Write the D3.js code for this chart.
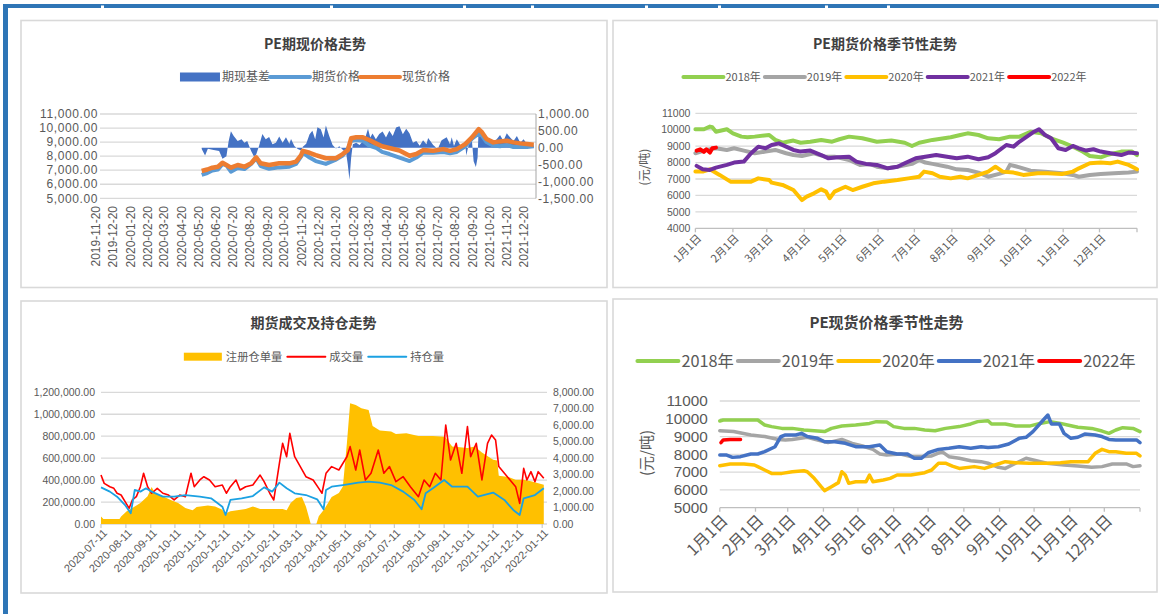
<!DOCTYPE html>
<html><head><meta charset="utf-8">
<script src="https://cdn.jsdelivr.net/npm/d3@7"></script>
<style>body{margin:0;background:#fff;overflow:hidden}text{font-family:"Noto Sans CJK SC","Noto Sans",sans-serif;}text.num{font-family:"Liberation Sans",Arial,sans-serif;}</style>
</head><body><svg id="c" width="1159" height="614"></svg>
<script>
// ---------------- DATA ----------------
// Panel 1: PE期现价格走势
const p1Title = "PE期现价格走势";
const p1Legend = ["期现基差", "期货价格", "现货价格"];
const p1TickLabels = ["2019-11-20","2019-12-20","2020-01-20","2020-02-20","2020-03-20","2020-04-20","2020-05-20","2020-06-20","2020-07-20","2020-08-20","2020-09-20","2020-10-20","2020-11-20","2020-12-20","2021-01-20","2021-02-20","2021-03-20","2021-04-20","2021-05-20","2021-06-20","2021-07-20","2021-08-20","2021-09-20","2021-10-20","2021-11-20","2021-12-20"];
const p1PriceDates = ["2020-05-26","2020-06-05","2020-06-14","2020-06-24","2020-07-02","2020-07-09","2020-07-17","2020-07-29","2020-08-10","2020-08-22","2020-08-31","2020-09-08","2020-09-23","2020-10-11","2020-10-29","2020-11-10","2020-11-19","2020-11-22","2020-12-04","2020-12-15","2021-01-02","2021-01-20","2021-02-01","2021-02-10","2021-02-16","2021-02-25","2021-03-09","2021-03-20","2021-04-01","2021-04-12","2021-04-25","2021-05-13","2021-05-31","2021-06-12","2021-06-24","2021-07-12","2021-07-30","2021-08-11","2021-08-23","2021-09-07","2021-09-19","2021-10-01","2021-10-07","2021-10-15","2021-10-27","2021-11-08","2021-11-20","2021-12-02","2021-12-14","2021-12-26","2022-01-07"];
const p1Spot = [6940,7050,7180,7250,7530,7370,7180,7370,7250,7490,7920,7490,7370,7490,7490,7610,8080,8380,8240,8080,7850,7850,8150,8430,9270,9340,9340,9150,8910,8700,8580,8400,8030,8150,8430,8380,8500,8380,8500,8860,9330,9930,9690,9220,8980,9050,9100,8980,8910,8860,8810];
const p1Futures = [6660,6800,6980,7050,7450,7350,6900,7150,7080,7450,7850,7300,7100,7200,7250,7450,7980,8250,7900,7650,7450,7750,8050,8500,9100,9150,9100,8750,8600,8300,8150,7900,7650,7900,8250,8250,8300,8200,8300,8700,9250,9600,9450,9000,8750,8700,8800,8650,8650,8650,8700];
const p1BasisDates = ["2020-05-26","2020-06-01","2020-06-06","2020-06-14","2020-06-26","2020-07-02","2020-07-09","2020-07-13","2020-07-17","2020-07-22","2020-07-29","2020-08-05","2020-08-10","2020-08-15","2020-08-22","2020-08-27","2020-08-31","2020-09-05","2020-09-11","2020-09-17","2020-09-23","2020-09-29","2020-10-05","2020-10-11","2020-10-17","2020-10-23","2020-10-29","2020-11-01","2020-11-07","2020-11-13","2020-11-19","2020-11-22","2020-11-28","2020-12-04","2020-12-09","2020-12-14","2020-12-18","2020-12-24","2020-12-29","2021-01-02","2021-01-08","2021-01-14","2021-01-20","2021-01-26","2021-02-01","2021-02-07","2021-02-10","2021-02-13","2021-02-16","2021-02-19","2021-02-25","2021-03-03","2021-03-09","2021-03-14","2021-03-18","2021-03-22","2021-03-26","2021-04-01","2021-04-07","2021-04-13","2021-04-19","2021-04-25","2021-05-01","2021-05-07","2021-05-13","2021-05-19","2021-05-25","2021-05-31","2021-06-06","2021-06-12","2021-06-18","2021-06-24","2021-06-30","2021-07-03","2021-07-12","2021-07-20","2021-07-27","2021-08-05","2021-08-11","2021-08-14","2021-08-18","2021-08-23","2021-08-30","2021-09-07","2021-09-09","2021-09-13","2021-09-19","2021-09-22","2021-09-26","2021-09-29","2021-10-01","2021-10-05","2021-10-10","2021-10-15","2021-10-21","2021-10-27","2021-11-02","2021-11-08","2021-11-14","2021-11-20","2021-11-26","2021-12-02","2021-12-08","2021-12-14","2021-12-20","2021-12-26","2022-01-01","2022-01-07"];
const p1Basis = [-40,-230,-30,-60,-100,-330,-250,200,490,350,200,250,150,200,-100,-260,-200,50,410,250,320,100,150,330,150,310,120,260,50,-40,-80,30,120,400,500,250,610,550,300,660,350,80,-20,40,-60,-150,-500,-950,-300,100,150,80,200,350,560,300,420,250,410,480,300,500,350,600,640,400,560,420,150,200,60,220,100,290,80,-40,220,310,100,310,50,250,60,100,-230,80,200,-400,-570,-300,600,500,400,150,200,160,250,380,200,430,300,200,350,150,250,100,150,50];

// Panel 2: PE期货价格季节性走势 (day of year, price)
const p2Title = "PE期货价格季节性走势";
const seasonYears = ["2018年","2019年","2020年","2021年","2022年"];
const monthLabels = ["1月1日","2月1日","3月1日","4月1日","5月1日","6月1日","7月1日","8月1日","9月1日","10月1日","11月1日","12月1日"];
const monthStartDoy = [0,31,59,90,120,151,181,212,243,273,304,334];
const fut2018 = [[0,10030],[7,10030],[12,10190],[14,10150],[17,9880],[26,10030],[31,9780],[38,9580],[43,9540],[49,9580],[61,9680],[66,9380],[72,9210],[81,9340],[87,9210],[95,9270],[104,9380],[113,9270],[119,9420],[127,9580],[138,9480],[150,9270],[162,9340],[173,9210],[179,9010],[185,9210],[196,9380],[211,9540],[219,9680],[225,9780],[234,9680],[242,9480],[251,9420],[260,9580],[268,9580],[277,9880],[286,9780],[294,9480],[304,9210],[312,8970],[320,8670],[326,8400],[335,8320],[340,8460],[352,8670],[361,8670],[365,8460]];
const fut2019 = [[0,8570],[9,8770],[17,8870],[26,8770],[32,8870],[40,8730],[49,8570],[58,8670],[66,8770],[75,8570],[81,8460],[88,8400],[98,8570],[107,8360],[115,8360],[127,8160],[136,7860],[144,7920],[150,7750],[159,7650],[167,7750],[179,7920],[185,8160],[190,8000],[196,7920],[208,7750],[216,7590],[225,7550],[234,7390],[242,7140],[251,7310],[257,7450],[260,7860],[268,7710],[277,7510],[289,7450],[303,7350],[312,7250],[317,7140],[326,7250],[335,7310],[346,7350],[358,7390],[365,7450]];
const fut2020 = [[0,7450],[6,7450],[12,7590],[20,7250],[29,6840],[38,6840],[46,6840],[52,7040],[61,6940],[63,6780],[72,6640],[81,6330],[88,5720],[92,5930],[98,6130],[104,6370],[108,6230],[111,5830],[115,6230],[124,6530],[130,6330],[138,6530],[147,6740],[156,6840],[167,6940],[176,7040],[185,7140],[189,7450],[196,7350],[202,7140],[211,7040],[219,7140],[225,7040],[234,7250],[242,7450],[248,7750],[254,7450],[263,7390],[271,7250],[283,7350],[291,7350],[303,7310],[312,7450],[317,7650],[326,7960],[335,8000],[343,7960],[349,8060],[358,7860],[365,7590]];
const fut2021 = [[1,7800],[6,7590],[12,7550],[17,7690],[26,7860],[32,8000],[40,8060],[46,8570],[52,8970],[58,8870],[63,9070],[69,9170],[75,8970],[81,8770],[87,8670],[95,8730],[104,8460],[110,8260],[118,8320],[127,8360],[133,8060],[141,7920],[150,7860],[159,7650],[167,7750],[173,7960],[182,8260],[190,8360],[199,8460],[208,8360],[216,8260],[225,8360],[234,8200],[242,8320],[248,8570],[257,9070],[263,8970],[268,9280],[274,9580],[280,9880],[284,10030],[289,9680],[294,9480],[300,8870],[306,8770],[312,9010],[317,8870],[323,8730],[329,8810],[335,8670],[343,8570],[352,8460],[358,8610],[365,8570]];
const fut2022 = [[1,8730],[4,8810],[7,8650],[9,8810],[12,8610],[14,8870],[17,8910]];

// Panel 3: 期货成交及持仓走势
const p3Title = "期货成交及持仓走势";
const p3Legend = ["注册仓单量", "成交量", "持仓量"];
const p3TickLabels = ["2020-07-11","2020-08-11","2020-09-11","2020-10-11","2020-11-11","2020-12-11","2021-01-11","2021-02-11","2021-03-11","2021-04-11","2021-05-11","2021-06-11","2021-07-11","2021-08-11","2021-09-11","2021-10-11","2021-11-11","2021-12-11","2022-01-11"];
const p3ReceiptDates = ["2020-07-11","2020-07-14","2020-08-03","2020-08-05","2020-08-12","2020-08-19","2020-08-29","2020-09-07","2020-09-12","2020-09-16","2020-09-26","2020-10-05","2020-10-15","2020-10-24","2020-11-02","2020-11-07","2020-11-21","2020-11-30","2020-12-09","2020-12-12","2020-12-19","2021-01-07","2021-01-16","2021-01-25","2021-02-22","2021-02-27","2021-03-04","2021-03-11","2021-03-18","2021-03-23","2021-03-27","2021-03-29","2021-04-05","2021-04-08","2021-04-15","2021-04-24","2021-05-03","2021-05-08","2021-05-13","2021-05-17","2021-05-24","2021-05-31","2021-06-09","2021-06-14","2021-06-23","2021-07-07","2021-07-13","2021-07-26","2021-08-10","2021-08-28","2021-09-07","2021-09-12","2021-09-21","2021-10-10","2021-10-19","2021-10-28","2021-11-11","2021-11-16","2021-11-18","2021-11-30","2021-12-09","2021-12-19","2021-12-28","2022-01-13"];
const p3Receipt = [450,300,300,450,770,970,1270,1680,2240,1880,1680,1470,1270,970,830,1030,1130,1070,870,630,770,910,1070,910,910,830,1270,1580,1640,1070,360,0,0,465,910,1640,1880,2280,4900,7330,7230,7030,6930,5960,5680,5620,5470,5510,5350,5350,5310,5300,4710,4610,4710,4340,3900,3850,2930,2850,2690,2690,2590,2380];
const p3VolDates = ["2020-07-11","2020-07-15","2020-07-22","2020-07-27","2020-07-31","2020-08-05","2020-08-10","2020-08-15","2020-08-19","2020-08-24","2020-08-29","2020-09-02","2020-09-07","2020-09-12","2020-09-19","2020-09-26","2020-10-03","2020-10-10","2020-10-17","2020-10-24","2020-10-31","2020-11-04","2020-11-11","2020-11-16","2020-11-23","2020-11-30","2020-12-09","2020-12-14","2020-12-19","2020-12-26","2020-12-31","2021-01-07","2021-01-16","2021-01-25","2021-01-30","2021-02-06","2021-02-11","2021-02-18","2021-02-22","2021-02-27","2021-03-03","2021-03-09","2021-03-16","2021-03-23","2021-04-01","2021-04-08","2021-04-12","2021-04-17","2021-04-24","2021-05-03","2021-05-13","2021-05-17","2021-05-24","2021-05-29","2021-06-05","2021-06-12","2021-06-21","2021-06-28","2021-07-05","2021-07-13","2021-07-22","2021-07-31","2021-08-10","2021-08-17","2021-08-24","2021-08-31","2021-09-07","2021-09-13","2021-09-19","2021-09-26","2021-10-03","2021-10-10","2021-10-14","2021-10-21","2021-10-28","2021-11-04","2021-11-09","2021-11-14","2021-11-18","2021-11-25","2021-12-02","2021-12-09","2021-12-14","2021-12-19","2021-12-23","2021-12-28","2022-01-02","2022-01-06","2022-01-13"];
const p3Volume = [446000,370000,340000,325000,280000,264000,204000,143000,219000,249000,340000,462000,340000,280000,325000,280000,264000,219000,264000,249000,462000,340000,401000,431000,401000,340000,355000,280000,340000,401000,310000,340000,355000,446000,386000,280000,219000,553000,735000,613000,826000,613000,523000,431000,401000,325000,280000,462000,523000,492000,613000,705000,492000,674000,401000,462000,674000,462000,523000,386000,431000,340000,249000,401000,340000,462000,401000,902000,583000,735000,462000,887000,613000,735000,401000,735000,811000,766000,523000,462000,401000,340000,188000,507000,401000,477000,386000,477000,416000];
const p3OIDates = ["2020-07-11","2020-07-22","2020-07-31","2020-08-10","2020-08-17","2020-08-22","2020-08-29","2020-09-05","2020-09-12","2020-09-26","2020-10-10","2020-10-24","2020-11-11","2020-11-25","2020-12-09","2020-12-13","2020-12-19","2021-01-02","2021-01-16","2021-01-30","2021-02-09","2021-02-18","2021-02-27","2021-03-09","2021-03-23","2021-04-06","2021-04-14","2021-04-17","2021-04-24","2021-05-08","2021-05-27","2021-06-09","2021-06-23","2021-07-07","2021-07-22","2021-08-05","2021-08-14","2021-08-19","2021-08-28","2021-09-11","2021-09-21","2021-10-10","2021-10-23","2021-11-11","2021-11-25","2021-12-06","2021-12-14","2021-12-19","2022-01-02","2022-01-13"];
const p3OpenInterest = [334000,295000,249000,173000,97000,310000,295000,325000,295000,249000,249000,264000,249000,234000,158000,82000,219000,234000,255000,334000,295000,377000,325000,280000,264000,225000,134000,310000,340000,355000,377000,386000,377000,355000,295000,219000,134000,280000,325000,401000,340000,340000,249000,286000,219000,128000,82000,234000,264000,325000];

// Panel 4: PE现货价格季节性走势 (day of year, price)
const p4Title = "PE现货价格季节性走势";
const spot2018 = [[0,9875],[3,9930],[33,9930],[39,9650],[45,9560],[54,9460],[63,9460],[73,9370],[82,9330],[91,9280],[97,9460],[106,9590],[118,9650],[130,9740],[136,9840],[145,9820],[151,9560],[160,9460],[169,9460],[178,9370],[187,9330],[196,9460],[208,9560],[218,9710],[224,9840],[233,9890],[236,9710],[248,9710],[257,9590],[269,9590],[278,9740],[287,9840],[296,9740],[302,9650],[311,9520],[323,9460],[332,9310],[338,9180],[344,9370],[350,9500],[359,9460],[365,9280]];
const spot2019 = [[0,9330],[12,9280],[27,9090],[39,9000],[51,8840],[57,8810],[63,8840],[76,8960],[85,8810],[94,8660],[106,8840],[115,8620],[124,8470],[133,8280],[139,8020],[145,7960],[157,8020],[166,7870],[175,7870],[184,7910],[193,8150],[199,7870],[208,7780],[218,7640],[227,7590],[233,7500],[242,7270],[248,7210],[257,7500],[266,7780],[275,7640],[284,7500],[299,7400],[311,7340],[323,7270],[332,7310],[341,7460],[353,7460],[359,7310],[365,7360]];
const spot2020 = [[0,7360],[9,7460],[21,7460],[30,7400],[33,7310],[39,7120],[45,6930],[54,6930],[63,7020],[73,7080],[76,7020],[82,6650],[88,6180],[91,5960],[97,6180],[103,6410],[106,7020],[109,6840],[112,6370],[118,6460],[127,6460],[130,6840],[133,6460],[142,6560],[148,6650],[154,6840],[166,6840],[178,6970],[184,7120],[190,7500],[196,7500],[202,7340],[208,7210],[221,7310],[230,7210],[239,7400],[248,7590],[257,7530],[269,7500],[284,7500],[296,7530],[305,7590],[320,7590],[326,8060],[332,8280],[338,8150],[344,8150],[353,8060],[362,8060],[365,7910]];
const spot2021 = [[0,7960],[6,7960],[11,7830],[18,7870],[27,8020],[33,8020],[39,8150],[48,8430],[53,8990],[57,9090],[66,9090],[71,9180],[76,9000],[85,8900],[91,8710],[100,8710],[109,8620],[118,8430],[130,8430],[139,8530],[145,8150],[154,8020],[163,8020],[169,7780],[175,7780],[181,8090],[190,8280],[199,8340],[208,8430],[218,8340],[227,8430],[233,8390],[242,8430],[251,8580],[260,8900],[266,8960],[272,9280],[281,9930],[285,10210],[288,9710],[295,9710],[299,9180],[305,8900],[311,8960],[317,9140],[326,9090],[332,9000],[338,8840],[344,8810],[356,8810],[362,8810],[365,8660]];
const spot2022 = [[1,8660],[3,8810],[9,8840],[18,8840]];

// ---------------- DRAWING ----------------
const svg = d3.select("#c");
const parse = d3.timeParse("%Y-%m-%d");
const LABEL = "#595959", GRID = "#D9D9D9", TITLE = "#404040";
const fmt = d3.formatLocale({decimal: ".", thousands: ",", grouping: [3], currency: ["", ""], minus: "-"}).format(",.2f");

// outer frame
const frame = svg.append("g");
frame.append("rect").attr("x", 3).attr("y", 4).attr("width", 1156).attr("height", 4).attr("fill", "#2E75B6");
frame.append("rect").attr("x", 3).attr("y", 4).attr("width", 5).attr("height", 610).attr("fill", "#2E75B6");
[101, 330, 463, 531, 645, 718, 825, 887].forEach(x => frame.append("rect").attr("x", x).attr("y", 5.5).attr("width", 3).attr("height", 2.5).attr("fill", "#fff"));

// panel boxes
[[21, 20.5, 586, 267], [613, 20.5, 544, 267], [21, 301, 586, 292], [613, 299, 544, 293]].forEach(b => {
  svg.append("rect").attr("x", b[0]).attr("y", b[1]).attr("width", b[2]).attr("height", b[3])
    .attr("fill", "#fff").attr("stroke", "#D9D9D9").attr("stroke-width", 1.6);
});

function title(txt, cx, cy, size) {
  svg.append("text").attr("x", cx).attr("y", cy).attr("text-anchor", "middle").attr("dy", "0.35em")
    .attr("font-size", size).attr("font-weight", "bold").attr("fill", TITLE).text(txt);
}

// legend: items {label,color,type}
function legend(items, cx, cy, o) {
  const g = svg.append("g");
  const widths = items.map(it => {
    const t = g.append("text").attr("font-size", o.fs).text(it.label);
    const w = t.node().getComputedTextLength(); t.remove(); return w;
  });
  const total = d3.sum(widths) + items.length * (o.sw + o.g1) + (items.length - 1) * o.g2;
  let x = cx - total / 2;
  items.forEach((it, i) => {
    if (it.type === "rect") {
      g.append("rect").attr("x", x).attr("y", cy - o.rh / 2).attr("width", o.sw).attr("height", o.rh).attr("fill", it.color);
    } else {
      g.append("line").attr("x1", x).attr("x2", x + o.sw).attr("y1", cy).attr("y2", cy)
        .attr("stroke", it.color).attr("stroke-width", o.lw).attr("stroke-linecap", "round");
    }
    x += o.sw + o.g1;
    g.append("text").attr("x", x).attr("y", cy).attr("dy", "0.35em").attr("font-size", o.fs).attr("fill", LABEL).text(it.label);
    x += widths[i] + o.g2;
  });
}

// ===== Panel 1 =====
(function () {
  const x = d3.scaleTime().domain([parse("2019-11-27"), parse("2022-01-11")]).range([100, 536]);
  const yL = d3.scaleLinear().domain([5000, 11000]).range([198.3, 114]);
  const yR = d3.scaleLinear().domain([-1500, 1000]).range([198.3, 114]);
  const g = svg.append("g");
  d3.range(5000, 11001, 1000).forEach(v => {
    g.append("line").attr("x1", 100).attr("x2", 536).attr("y1", yL(v)).attr("y2", yL(v)).attr("stroke", GRID).attr("stroke-width", 1.3);
    g.append("text").attr("class", "num").attr("x", 98).attr("y", yL(v)).attr("dy", "0.35em").attr("text-anchor", "end")
      .attr("font-size", 12).attr("letter-spacing", 0.6).attr("fill", LABEL).text(fmt(v));
  });
  d3.range(-1500, 1001, 500).forEach(v => {
    g.append("text").attr("class", "num").attr("x", 538).attr("y", yR(v)).attr("dy", "0.35em")
      .attr("font-size", 12).attr("letter-spacing", 0.6).attr("fill", LABEL).text(fmt(v));
  });
  g.append("line").attr("x1", 536).attr("x2", 536).attr("y1", 114).attr("y2", 198.3).attr("stroke", "#A6A6A6").attr("stroke-width", 1);
  p1TickLabels.forEach(l => {
    g.append("text").attr("class", "num").attr("transform", `translate(${x(parse(l))},206) rotate(-90)`).attr("dy", "0.35em")
      .attr("text-anchor", "end").attr("font-size", 12).attr("fill", LABEL).text(l);
  });
  const basis = p1BasisDates.map((d, i) => [parse(d), p1Basis[i]]);
  g.append("path").datum(basis).attr("fill", "#4472C4")
    .attr("d", d3.area().x(d => x(d[0])).y0(yR(0)).y1(d => yR(d[1])));
  const fut = p1PriceDates.map((d, i) => [parse(d), p1Futures[i]]);
  const spot = p1PriceDates.map((d, i) => [parse(d), p1Spot[i]]);
  const line = d3.line().x(d => x(d[0])).y(d => yL(d[1]));
  g.append("path").datum(fut).attr("fill", "none").attr("stroke", "#5B9BD5").attr("stroke-width", 4).attr("stroke-linejoin", "round").attr("d", line);
  g.append("path").datum(spot).attr("fill", "none").attr("stroke", "#ED7D31").attr("stroke-width", 4.5).attr("stroke-linejoin", "round").attr("d", line);
  title(p1Title, 315, 44, 14);
  legend([{label: p1Legend[0], color: "#4472C4", type: "rect"}, {label: p1Legend[1], color: "#5B9BD5"}, {label: p1Legend[2], color: "#ED7D31"}],
    315, 77, {fs: 12, sw: 40, g1: 2, g2: 0, rh: 9, lw: 4});
})();

// seasonal panel
function seasonal(o) {
  const x = d3.scaleLinear().domain([0, 365]).range([o.x0, o.x1]);
  const y = d3.scaleLinear().domain([o.ymin, 11000]).range([o.yb, o.yt]);
  const g = svg.append("g");
  d3.range(o.ymin, 11001, 1000).forEach(v => {
    g.append("line").attr("x1", o.x0).attr("x2", o.x1).attr("y1", y(v)).attr("y2", y(v))
      .attr("stroke", v === o.ymin ? "#BFBFBF" : GRID).attr("stroke-width", 1.3);
    g.append("text").attr("class", "num").attr("x", o.x0 - o.lpad).attr("y", y(v)).attr("dy", "0.35em").attr("text-anchor", "end")
      .attr("font-size", o.fs).attr("fill", LABEL).text(v);
  });
  monthStartDoy.concat([365]).forEach(dv => {
    g.append("line").attr("x1", x(dv)).attr("x2", x(dv)).attr("y1", o.yb).attr("y2", o.yb + 4).attr("stroke", "#BFBFBF").attr("stroke-width", 1.3);
  });
  monthLabels.forEach((l, i) => {
    g.append("text").attr("transform", `translate(${x(monthStartDoy[i]) + o.lx},${o.yb + o.ly}) rotate(-45)`).attr("dy", "0.35em")
      .attr("text-anchor", "end").attr("font-size", o.xfs).attr("fill", LABEL).text(l);
  });
  g.append("text").attr("transform", `translate(${o.tx},${o.ty}) rotate(-90)`).attr("text-anchor", "middle").attr("dy", "0.35em")
    .attr("font-size", o.tfs).attr("fill", LABEL).text("(元/吨)");
  const line = d3.line().x(d => x(d[0])).y(d => y(d[1]));
  o.series.forEach((s, i) => {
    g.append("path").datum(s).attr("fill", "none").attr("stroke", o.colors[i]).attr("stroke-width", o.lw)
      .attr("stroke-linejoin", "round").attr("stroke-linecap", "round").attr("d", line);
  });
  title(o.title, o.cx, o.titleY, o.titleFs);
  legend(seasonYears.map((l, i) => ({label: l, color: o.colors[i]})), o.cx, o.legY, o.leg);
}

seasonal({title: p2Title, cx: 885, titleY: 44, titleFs: 14, legY: 77, x0: 695.4, x1: 1137, ymin: 4000, yb: 228.3, yt: 113.3,
  fs: 10.5, lpad: 5, xfs: 11, lx: 4, ly: 8, tx: 645, ty: 167, tfs: 12, lw: 4,
  colors: ["#92D050", "#A5A5A5", "#FFC000", "#7030A0", "#FF0000"],
  series: [fut2018, fut2019, fut2020, fut2021, fut2022],
  leg: {fs: 11, sw: 40, g1: 2, g2: 4, rh: 4, lw: 4}});

seasonal({title: p4Title, cx: 886.5, titleY: 322.7, titleFs: 15, legY: 361, x0: 719.8, x1: 1140, ymin: 5000, yb: 507.7, yt: 401,
  fs: 15.3, lpad: 12, xfs: 16, lx: 5, ly: 10, tx: 647, ty: 453, tfs: 15, lw: 3.5,
  colors: ["#92D050", "#A5A5A5", "#FFC000", "#4472C4", "#FF0000"],
  series: [spot2018, spot2019, spot2020, spot2021, spot2022],
  leg: {fs: 16.3, sw: 41, g1: 3, g2: 4, rh: 4, lw: 4}});

// ===== Panel 3 =====
(function () {
  const x = d3.scaleTime().domain([parse("2020-07-11"), parse("2022-01-17")]).range([101, 547]);
  const yL = d3.scaleLinear().domain([0, 1200000]).range([524, 392.3]);
  const yR = d3.scaleLinear().domain([0, 8000]).range([524, 392.3]);
  const g = svg.append("g");
  d3.range(0, 1200001, 200000).forEach(v => {
    g.append("line").attr("x1", 101).attr("x2", 547).attr("y1", yL(v)).attr("y2", yL(v)).attr("stroke", GRID).attr("stroke-width", 1.3);
    g.append("text").attr("class", "num").attr("x", 95).attr("y", yL(v)).attr("dy", "0.35em").attr("text-anchor", "end").attr("font-size", 10.5).attr("fill", LABEL).text(fmt(v));
  });
  d3.range(0, 8001, 1000).forEach(v => {
    g.append("text").attr("class", "num").attr("x", 553).attr("y", yR(v)).attr("dy", "0.35em").attr("font-size", 10.5).attr("fill", LABEL).text(fmt(v));
  });
  p3TickLabels.forEach(l => {
    const tx = x(parse(l));
    g.append("line").attr("x1", tx).attr("x2", tx).attr("y1", 524).attr("y2", 528).attr("stroke", "#BFBFBF");
    g.append("text").attr("class", "num").attr("transform", `translate(${tx + 4},531) rotate(-45)`).attr("dy", "0.35em")
      .attr("text-anchor", "end").attr("font-size", 11).attr("fill", LABEL).text(l);
  });
  const rc = p3ReceiptDates.map((d, i) => [parse(d), p3Receipt[i]]);
  g.append("path").datum(rc).attr("fill", "#FFC000").attr("d", d3.area().x(d => x(d[0])).y0(yR(0)).y1(d => yR(d[1])));
  const vol = p3VolDates.map((d, i) => [parse(d), p3Volume[i]]);
  const oi = p3OIDates.map((d, i) => [parse(d), p3OpenInterest[i]]);
  const line = d3.line().x(d => x(d[0])).y(d => yL(d[1]));
  g.append("path").datum(vol).attr("fill", "none").attr("stroke", "#FF0000").attr("stroke-width", 1.6).attr("stroke-linejoin", "round").attr("d", line);
  g.append("path").datum(oi).attr("fill", "none").attr("stroke", "#1BA1E2").attr("stroke-width", 1.8).attr("stroke-linejoin", "round").attr("d", line);
  title(p3Title, 313.6, 322.7, 14);
  legend([{label: p3Legend[0], color: "#FFC000", type: "rect"}, {label: p3Legend[1], color: "#FF0000"}, {label: p3Legend[2], color: "#1BA1E2"}],
    314, 356.7, {fs: 11.3, sw: 38, g1: 4, g2: 5, rh: 8, lw: 2});
})();
</script></body></html>
